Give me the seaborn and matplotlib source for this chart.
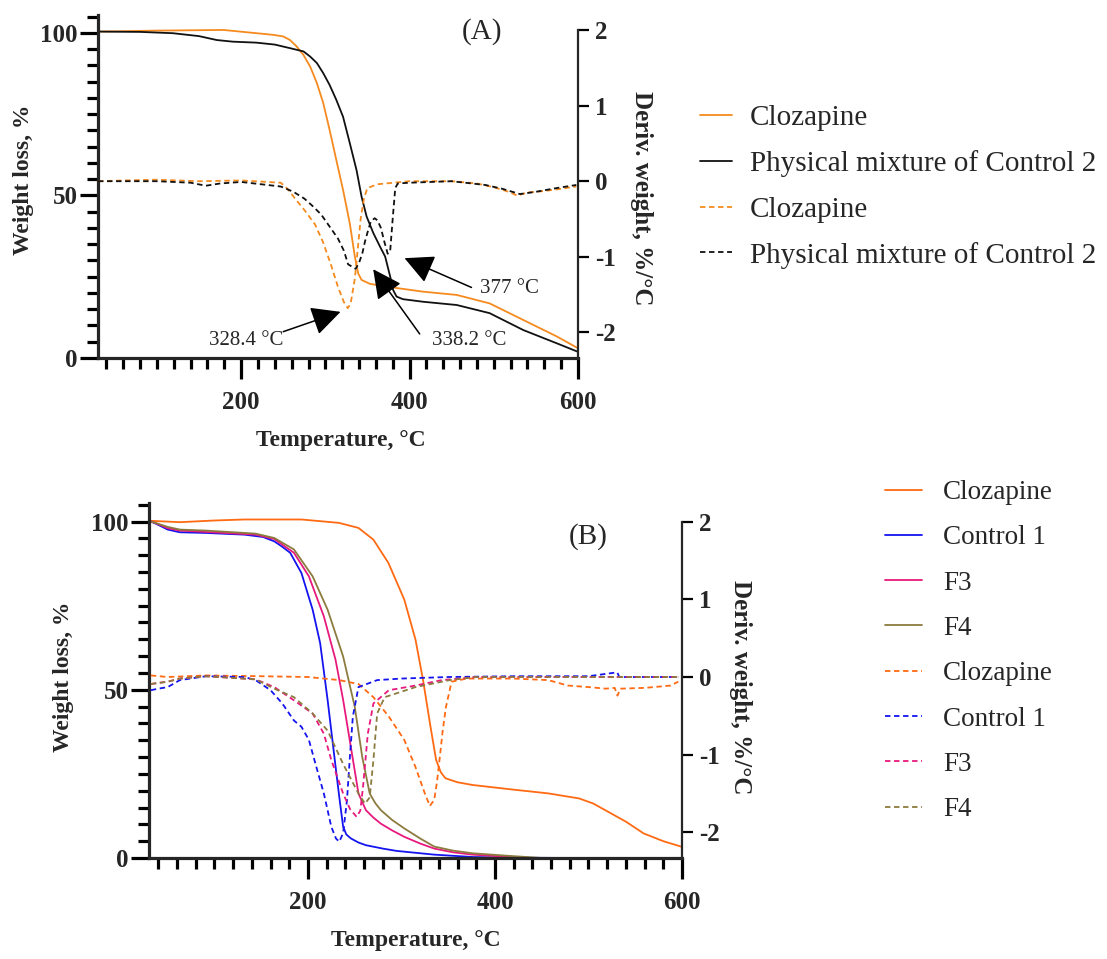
import numpy as np
import pandas as pd
import matplotlib
matplotlib.use("Agg")
import matplotlib.pyplot as plt
import seaborn as sns
from matplotlib.ticker import MultipleLocator

# ---------------- DATA: panel A ----------------
A_T_clz = [30, 100, 179, 238, 250, 258, 266, 274, 282, 290, 297.5, 305, 313, 321, 329, 335, 339, 343, 353, 377, 416, 456, 495, 535, 575, 600]
A_W_clz = [100.4, 100.7, 100.9, 99.4, 98.9, 97.8, 95.8, 93.2, 89.6, 84.5, 78.4, 70.2, 60.9, 51.7, 41.4, 31.2, 26, 24, 22.8, 21.8, 20.4, 19.4, 16.8, 11.7, 6.6, 3]

A_T_pm = [30, 80, 119, 150, 171, 190, 218, 240, 258, 274, 282, 290, 297.5, 305, 313, 321, 329, 337, 343, 349, 357, 365, 371, 377, 380.5, 384.5, 392, 416, 456, 495, 535, 575, 600]
A_W_pm = [100.4, 100.3, 99.9, 99, 97.8, 97.3, 97, 96.4, 95.3, 94.3, 92.7, 90.7, 87.6, 84, 79.4, 74.2, 66.1, 57.8, 49.6, 43.5, 38.4, 34.2, 31.2, 25, 20.9, 18.9, 18.1, 17.3, 16.3, 13.8, 8.6, 4.5, 1.9]

A_Td_clz = [30, 60, 100, 150, 200, 247, 255, 264, 275, 287.6, 297, 306.5, 315, 322, 326.6, 330, 335, 338, 342, 346, 350, 362, 400, 450, 480, 500, 515, 528, 540, 560, 580, 598]
A_D_clz = [0, 0.01, 0.02, 0, 0.01, -0.02, -0.1, -0.23, -0.38, -0.57, -0.8, -1.1, -1.4, -1.6, -1.68, -1.62, -1.29, -0.95, -0.49, -0.22, -0.09, -0.04, 0, 0, -0.03, -0.08, -0.13, -0.19, -0.15, -0.13, -0.1, -0.07]

A_Td_pm = [30, 100, 140, 158, 175, 200, 247, 262, 275, 285, 295, 305, 315, 322, 327, 333, 336, 340, 344, 347, 350, 354, 358.6, 362, 366, 370, 374, 377, 380, 383, 386, 400, 450, 490, 510, 531, 550, 575, 598]
A_D_pm = [0, 0, -0.02, -0.06, -0.03, -0.01, -0.07, -0.14, -0.23, -0.33, -0.44, -0.6, -0.76, -0.92, -1.1, -1.14, -1.16, -1.08, -0.95, -0.8, -0.68, -0.53, -0.49, -0.52, -0.62, -0.8, -0.96, -0.92, -0.49, -0.09, -0.03, -0.02, 0, -0.05, -0.1, -0.17, -0.14, -0.09, -0.05]

A_labels = ["Clozapine", "Physical mixture of Control 2"]
A_annot = ["328.4 °C", "338.2 °C", "377 °C"]

# ---------------- DATA: panel B ----------------
B_T_clz = [32, 63, 100, 132, 193, 233, 254, 270, 286, 303, 315, 323, 331, 337, 342, 347, 360, 376, 417, 457, 490, 505, 518, 540, 559, 580, 600]
B_W_clz = [100.2, 99.8, 100.3, 100.6, 100.6, 99.6, 98.1, 94.6, 87.7, 76.8, 64.9, 53, 39.1, 29.2, 25.5, 23.7, 22.5, 21.7, 20.4, 19.2, 17.7, 16.2, 14.2, 10.8, 7.3, 5, 3.3]

B_T_c1 = [32, 40, 50, 63, 91, 132, 152, 164, 172, 181, 193, 205, 213, 221, 229.5, 234, 237.6, 241, 246, 254, 262, 280, 295, 335, 376, 417, 450, 482]
B_W_c1 = [100, 99, 97.6, 96.8, 96.6, 96.1, 95.4, 94.1, 92.6, 90.7, 84.7, 73.8, 63.9, 47, 27.2, 17, 9.3, 7, 5.8, 4.6, 3.8, 2.8, 2.1, 1, 0.3, 0.1, 0.05, 0]

B_T_f3 = [32, 40, 50, 63, 91, 144, 164, 185, 201, 217, 229.5, 237.6, 245.8, 254, 262, 270, 278, 290, 303, 320, 335, 355, 376, 417, 440]
B_W_f3 = [100, 99.2, 98, 97.3, 96.9, 96.1, 94.8, 90.7, 83.7, 71.8, 58.9, 47, 33.1, 19.2, 14.2, 12, 10.2, 8.2, 6.3, 4.3, 2.8, 1.7, 1, 0.3, 0]

B_T_f4 = [32, 40, 50, 63, 91, 144, 164, 185, 205, 221, 237.6, 250, 258, 266, 272, 278, 290, 303, 320, 335, 355, 376, 417, 450]
B_W_f4 = [100, 99.3, 98.4, 97.6, 97.3, 96.4, 95.1, 91.7, 83.7, 73.8, 59.9, 45, 30.1, 19.2, 16.3, 14.2, 11.3, 8.8, 5.8, 3.4, 2.2, 1.4, 0.6, 0]

B_Td_clz = [32, 50, 91, 150, 200, 233.5, 254, 270, 286.5, 303, 315, 325, 330.4, 335, 338, 341.4, 344, 347.5, 353.6, 370, 420, 457, 478, 500, 518.5, 528, 531, 534, 560, 588, 596]
B_D_clz = [0.02, 0, 0.02, 0.01, 0.0, -0.04, -0.09, -0.26, -0.51, -0.81, -1.16, -1.5, -1.66, -1.58, -1.35, -0.99, -0.7, -0.39, -0.06, -0.02, -0.02, -0.04, -0.11, -0.13, -0.15, -0.14, -0.24, -0.15, -0.14, -0.11, -0.06]

B_Td_c1 = [32, 40, 50, 63, 91, 132, 144, 160, 172.5, 185, 193, 201, 209, 217, 225, 230, 233.5, 237.6, 241.7, 245, 248, 254, 274, 300, 350, 420, 500, 530.7, 533, 560, 596]
B_D_c1 = [-0.17, -0.15, -0.13, -0.04, 0.01, 0.0, -0.04, -0.17, -0.34, -0.56, -0.64, -0.81, -1.16, -1.5, -1.93, -2.08, -2.12, -2.01, -1.59, -1.0, -0.51, -0.13, -0.04, -0.02, 0.0, 0.01, 0.01, 0.06, 0.0, 0.0, 0.0]

B_Td_f3 = [32, 50, 63, 91, 144, 164, 185, 205, 217, 225, 237.6, 245, 252, 256, 259, 264, 270, 286.5, 315, 343, 380, 450, 530, 596]
B_D_f3 = [-0.09, -0.06, -0.02, 0.01, -0.03, -0.13, -0.3, -0.47, -0.73, -1.07, -1.5, -1.7, -1.8, -1.72, -1.4, -0.73, -0.34, -0.17, -0.11, -0.04, 0.0, 0.0, 0.0, 0.0]

B_Td_f4 = [32, 50, 63, 91, 144, 164, 185, 205, 221, 237.6, 254, 261, 266, 270, 274, 282, 315, 351.6, 380, 450, 530, 596]
B_D_f4 = [-0.09, -0.06, -0.02, 0.01, -0.03, -0.15, -0.26, -0.47, -0.69, -1.12, -1.5, -1.63, -1.55, -1.07, -0.47, -0.26, -0.13, -0.04, 0.0, 0.0, 0.0, 0.0]

B_labels = ["Clozapine", "Control 1", "F3", "F4"]

x_major = [200, 400, 600]
y_major = [0, 50, 100]
d_major = [-2, -1, 0, 1, 2]

# ---------------- STYLE ----------------
sns.set_style("ticks")
plt.rcParams['font.family'] = ['Liberation Serif', 'DejaVu Serif']
plt.rcParams['axes.unicode_minus'] = False

W, H = 1107, 959
fig = plt.figure(figsize=(W / 100, H / 100), dpi=100)

axA = fig.add_axes([98 / W, 1 - 358 / H, 480 / W, 343 / H])
axB = fig.add_axes([149 / W, 1 - 858 / H, 533 / W, 355 / H])
axA2 = axA.twinx()
axB2 = axB.twinx()

LW = 1.3
DASH = (0, (3, 2))

cA = ["#F58A1F", "#111111"]
sns.lineplot(x=A_T_clz, y=A_W_clz, ax=axA, color=cA[0], lw=LW, label=A_labels[0], legend=False)
sns.lineplot(x=A_T_pm, y=A_W_pm, ax=axA, color=cA[1], lw=LW, label=A_labels[1], legend=False)
sns.lineplot(x=A_Td_clz, y=A_D_clz, ax=axA2, color=cA[0], lw=LW, linestyle=DASH, label=A_labels[0], legend=False)
sns.lineplot(x=A_Td_pm, y=A_D_pm, ax=axA2, color=cA[1], lw=LW, linestyle=DASH, label=A_labels[1], legend=False)

cB = ["#FF6A13", "#1414F0", "#E8197D", "#8C7B3E"]
for T, Wt, c, lab in zip([B_T_clz, B_T_c1, B_T_f3, B_T_f4], [B_W_clz, B_W_c1, B_W_f3, B_W_f4], cB, B_labels):
    sns.lineplot(x=T, y=Wt, ax=axB, color=c, lw=LW, label=lab, legend=False)
for T, D, c, lab in zip([B_Td_clz, B_Td_c1, B_Td_f3, B_Td_f4], [B_D_clz, B_D_c1, B_D_f3, B_D_f4], cB, B_labels):
    sns.lineplot(x=T, y=D, ax=axB2, color=c, lw=LW, linestyle=DASH, label=lab, legend=False)


def style(ax, ax2, dlo, dhi, ylab_pos, xlab_pos, dlab_pos):
    ax.set_xlim(30, 600)
    ax.set_ylim(0, 105.5)
    ax2.set_ylim(dlo, dhi)
    for s in ["top", "right"]:
        ax.spines[s].set_visible(False)
    for s in ["top", "left", "bottom"]:
        ax2.spines[s].set_visible(False)
    ax.spines["left"].set_linewidth(2.3)
    ax.spines["bottom"].set_linewidth(2.3)
    ax2.spines["right"].set_linewidth(1.6)
    ax2.spines["right"].set_bounds(dlo, 2)
    ax.set_xticks(x_major)
    ax.set_xticklabels([str(v) for v in x_major], fontsize=18, fontweight="bold")
    ax.xaxis.set_minor_locator(MultipleLocator(20))
    ax.set_yticks(y_major)
    ax.set_yticklabels([str(v) for v in y_major], fontsize=18, fontweight="bold")
    ax.yaxis.set_minor_locator(MultipleLocator(5))
    ax.tick_params(axis="x", which="major", length=15, width=2.3, pad=9, color="black")
    ax.tick_params(axis="x", which="minor", length=8, width=2.3, color="black")
    ax.tick_params(axis="y", which="major", length=13, width=2.3, pad=1.5, color="black")
    ax.tick_params(axis="y", which="minor", length=8, width=2.3, color="black")
    ax2.set_yticks(d_major)
    ax2.set_yticklabels([str(v) for v in d_major], fontsize=18, fontweight="bold")
    ax2.tick_params(axis="y", which="major", length=8, width=1.6, pad=4, color="black")
    ax.set_xlabel("Temperature, °C", fontsize=17, fontweight="bold", va="center")
    ax.xaxis.set_label_coords(*xlab_pos)
    ax.set_ylabel("Weight loss, %", fontsize=17, fontweight="bold", va="center")
    ax.yaxis.set_label_coords(*ylab_pos)
    ax2.set_ylabel("Deriv. weight, %/°C", fontsize=18, fontweight="bold", rotation=270, va="center")
    ax2.yaxis.set_label_coords(*dlab_pos)
    ax.set_facecolor("none")
    ax2.set_facecolor("none")


style(axA, axA2, -2.34, 2.2, (-0.156, 0.519), (0.506, -0.24), (1.133, 0.466))
style(axB, axB2, -2.33, 2.24, (-0.161, 0.51), (0.5, -0.232), (1.109, 0.48))

axA.text(486, 100.5, "(A)", fontsize=21, ha="center", va="center")
axB.text(500, 95.5, "(B)", fontsize=21, ha="center", va="center")

arrow = dict(arrowstyle="-|>,head_length=0.9,head_width=0.45", mutation_scale=20,
             color="black", lw=1.1, shrinkA=0, shrinkB=0)
axA.annotate("", xy=(318, 14.2), xytext=(250, 8.1), arrowprops=arrow)
axA.text(206, 5.5, A_annot[0], fontsize=15, ha="center", va="center")
axA.annotate("", xy=(356.8, 27.3), xytext=(412, 7.4), arrowprops=arrow)
axA.text(471, 5.5, A_annot[1], fontsize=15, ha="center", va="center")
axA.annotate("", xy=(394, 30.7), xytext=(473.5, 21.7), arrowprops=arrow)
axA.text(518, 21.4, A_annot[2], fontsize=15, ha="center", va="center")

hA = axA.get_lines()[:2] + axA2.get_lines()[:2]
fig.legend(hA, A_labels + A_labels, loc="upper left", bbox_to_anchor=(700 / W, 1 - 105 / H),
           frameon=False, fontsize=21, handlelength=1.1, handletextpad=0.62,
           labelspacing=0.65, borderpad=0, borderaxespad=0)
hB = axB.get_lines()[:4] + axB2.get_lines()[:4]
fig.legend(hB, B_labels + B_labels, loc="upper left", bbox_to_anchor=(885 / W, 1 - 480 / H),
           frameon=False, fontsize=19.5, handlelength=1.37, handletextpad=0.78,
           labelspacing=0.75, borderpad=0, borderaxespad=0)

fig.savefig("out.png", dpi=100)
